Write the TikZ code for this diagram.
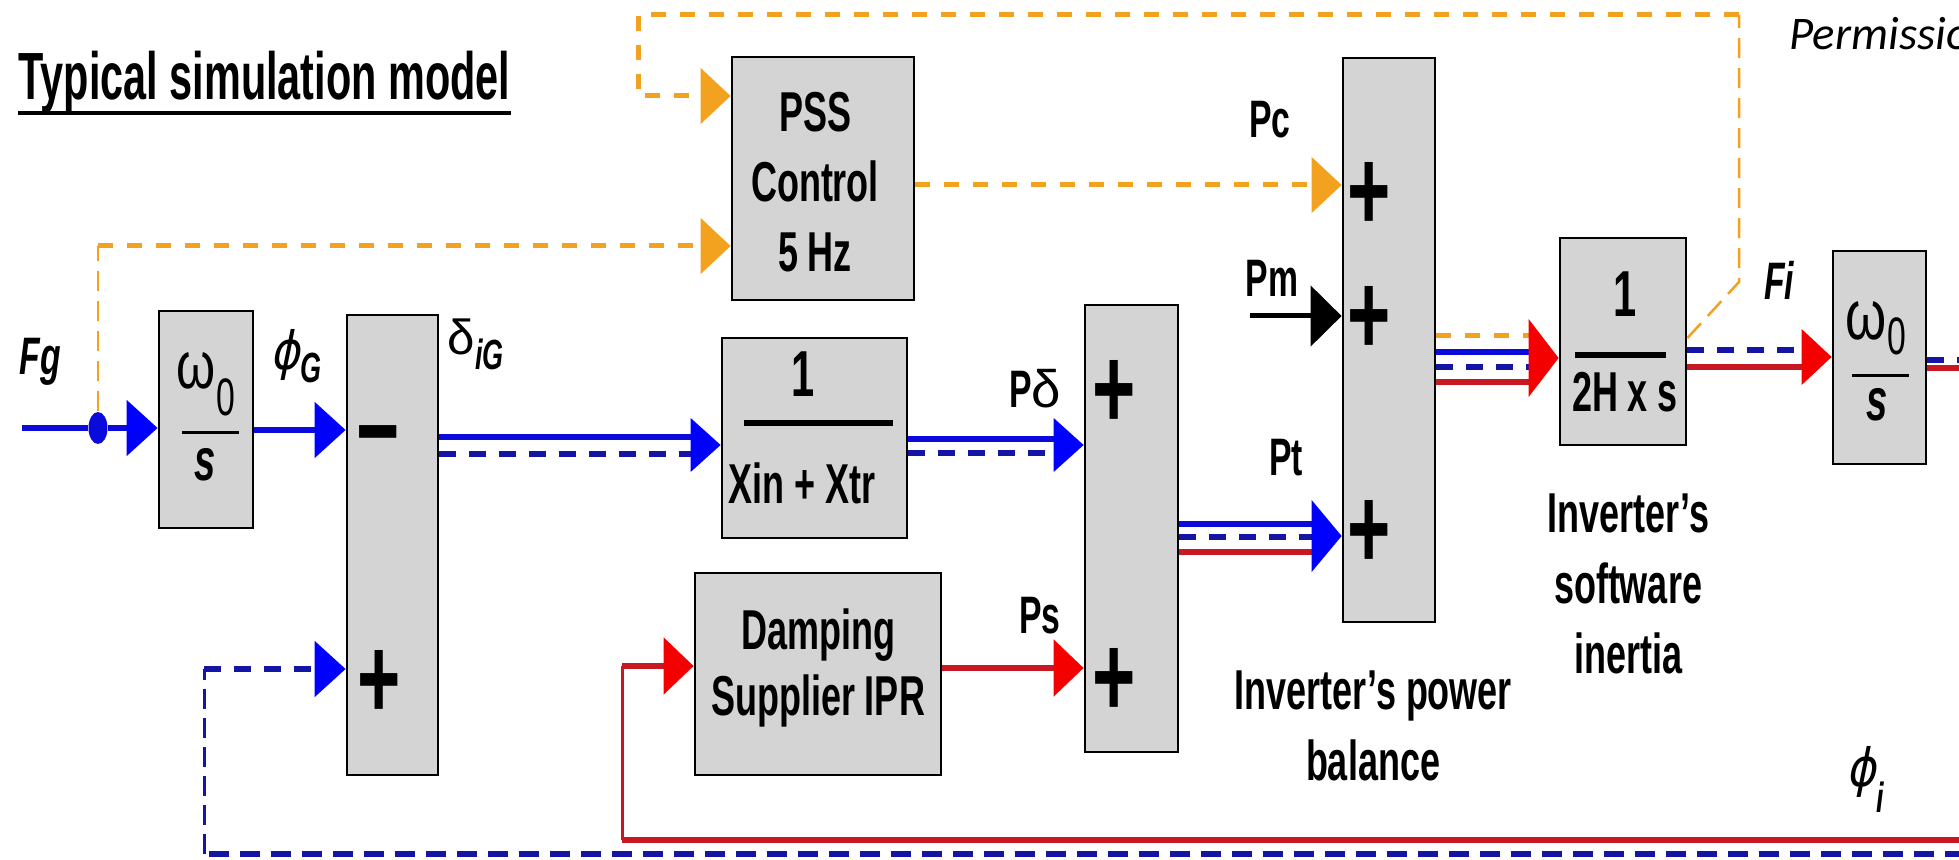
\documentclass[tikz,border=0pt]{standalone}
\usepackage{fontspec}
\usetikzlibrary{arrows.meta,shapes.geometric}
\newfontfamily\nf{Liberation Sans}[FakeStretch=0.64]
\newfontfamily\tf{Liberation Sans}[FakeStretch=0.62]
\newfontfamily\grn{Liberation Sans}
\newfontfamily\wf{Liberation Sans}[FakeStretch=0.75]
\newfontfamily\dvf{DejaVu Sans}[FakeSlant=0.2,FakeStretch=0.85]
\newfontfamily\cf{Carlito}
\definecolor{boxg}{RGB}{212,212,212}
\definecolor{bluel}{RGB}{10,10,220}
\definecolor{blued}{RGB}{20,20,165}
\definecolor{bluea}{RGB}{0,0,255}
\definecolor{redl}{RGB}{200,25,35}
\definecolor{reda}{RGB}{245,0,0}
\definecolor{orng}{RGB}{242,162,30}
\tikzset{
  blk/.style={draw=black, fill=boxg, line width=0.28mm, inner sep=0pt},
  bsol/.style={draw=bluel, line width=0.55mm},
  bdsh/.style={draw=blued, line width=0.55mm, dash pattern=on 1.7mm off 1.3mm},
  bdbot/.style={draw=blued, line width=0.55mm, dash pattern=on 2mm off 1.1mm},
  bdthin/.style={draw=blued, line width=0.3mm, dash pattern=on 2mm off 0.9mm},
  rsol/.style={draw=redl, line width=0.55mm},
  rthin/.style={draw=redl, line width=0.3mm},
  othick/.style={draw=orng, line width=0.5mm, dash pattern=on 1.5mm off 1.4mm},
  othin/.style={draw=orng, line width=0.25mm, dash pattern=on 2mm off 1mm},
  ksol/.style={draw=black, line width=0.5mm},
  arB/.style={-{Triangle[length=3.1mm,width=5.5mm,color=bluea]}},
  arR/.style={-{Triangle[length=3mm,width=5.6mm,color=reda]}},
  arO/.style={-{Triangle[length=3mm,width=5.5mm,color=orng]}},
  arK/.style={-{Triangle[length=3.1mm,width=6mm,color=black]}},
  fbar/.style={draw=black, line width=#1},
  lbl/.style={inner sep=0pt, font=\nf\bfseries\fontsize{15}{17}\selectfont},
  ilbl/.style={inner sep=0pt, font=\nf\bfseries\itshape\fontsize{15}{17}\selectfont},
  sgn/.style={inner sep=0pt, anchor=base, font=\nf\bfseries\fontsize{33}{33}\selectfont},
  btxt/.style={inner sep=0pt, align=center, font=\nf\bfseries\fontsize{16}{20}\selectfont},
  pics/ahd/.style n args={2}{code={\fill[#1] (0,0) -- (-30,#2) -- (-30,-#2) -- cycle;}},
}
\begin{document}
\begin{tikzpicture}[x=0.1mm,y=-0.1mm]
\useasboundingbox (0,0) rectangle (1959,860);
\clip (0,0) rectangle (1959,860);
\fill[white] (0,0) rectangle (1959,860);

% ---------- blocks ----------
\node[blk, minimum width=9.4mm, minimum height=21.7mm] (b1) at (206,419.5) {};
\node[blk, minimum width=9.1mm, minimum height=46mm] (sub) at (392.5,545) {};
\node[blk, minimum width=18.2mm, minimum height=24.3mm] (pss) at (823,178.5) {};
\node[blk, minimum width=18.5mm, minimum height=20mm] (xin) at (814.5,438) {};
\node[blk, minimum width=24.6mm, minimum height=20.2mm] (damp) at (818,674) {};
\node[blk, minimum width=9.3mm, minimum height=44.7mm] (sum2) at (1131.5,528.5) {};
\node[blk, minimum width=9.2mm, minimum height=56.4mm] (sum3) at (1389,340) {};
\node[blk, minimum width=12.6mm, minimum height=20.7mm] (inert) at (1623,341.5) {};
\node[blk, minimum width=9.3mm, minimum height=21.3mm] (b2) at (1879.5,357.5) {};

% ---------- block contents ----------
\node[anchor=base, inner sep=0pt, font=\wf\fontsize{19}{19}\selectfont] (b1w) at (196,388) {ω};
\node[anchor=base west, inner sep=0pt, font=\nf\fontsize{15}{15}\selectfont] (b1z) at (216,415) {0};
\draw[fbar=0.3mm] (182,432) -- (239,432);
\node[anchor=base, inner sep=0pt, font=\nf\bfseries\itshape\fontsize{17}{17}\selectfont] (b1s) at (205,480) {s};

\node[anchor=base, inner sep=0pt, font=\wf\fontsize{20}{20}\selectfont] (b2w) at (1866,339) {ω};
\node[anchor=base west, inner sep=0pt, font=\nf\fontsize{15}{15}\selectfont] (b2z) at (1887,354) {0};
\draw[fbar=0.3mm] (1852,376) -- (1909,376);
\node[anchor=base, inner sep=0pt, font=\nf\bfseries\itshape\fontsize{17}{17}\selectfont] (b2s) at (1877,420) {s};

\node[btxt] (psst) at (815,182) {PSS\\Control\\5 Hz};
\node[anchor=base, inner sep=0pt, font=\nf\bfseries\fontsize{18.5}{18.5}\selectfont] (xin1) at (803,397) {1};
\draw[fbar=0.6mm] (744,423) -- (893,423);
\node[anchor=base, inner sep=0pt, font=\nf\bfseries\fontsize{16}{16}\selectfont] (xinb) at (802,503) {Xin + Xtr};
\node[btxt, font=\nf\bfseries\fontsize{16}{19}\selectfont] (dampt) at (818,668) {Damping\\Supplier IPR};
\node[anchor=base, inner sep=0pt, font=\nf\bfseries\fontsize{18.5}{18.5}\selectfont] (in1) at (1625,317) {1};
\draw[fbar=0.6mm] (1575,355) -- (1666,355);
\node[anchor=base, inner sep=0pt, font=\nf\bfseries\fontsize{16}{16}\selectfont] (inb) at (1625,411) {2H x s};

% signs
\node[sgn] (m1) at (378,470) {−};
\node[sgn] (p1) at (379,718) {+};
\node[sgn] (p2) at (1114,428) {+};
\node[sgn] (p3) at (1114,716) {+};
\node[sgn] (p4) at (1369,231) {+};
\node[sgn] (p5) at (1369,354) {+};
\node[sgn] (p6) at (1369,568) {+};

% ---------- texts ----------
\node[anchor=base west, inner sep=0pt, font=\tf\bfseries\fontsize{19}{22}\selectfont] (title) at (18,100) {Typical simulation model};
\draw[line width=0.4mm] ([yshift=-1.3mm]title.base west) -- ([yshift=-1.3mm]title.base east);
\node[anchor=base west, inner sep=0pt, font=\cf\itshape\fontsize{13.3}{16}\selectfont] (perm) at (1789,50) {Permission};

\node[ilbl] (fg) at (40,362) {Fg};
\node[anchor=base west, inner sep=0pt] (phig) at (270,370) {\dvf\fontsize{15}{15}\selectfont ϕ\raisebox{-1.3mm}{\nf\bfseries\itshape\fontsize{12}{12}\selectfont G}};
\node[anchor=base west, inner sep=0pt] (dig) at (447,355) {\grn\fontsize{14}{14}\selectfont δ\raisebox{-1.5mm}{\nf\bfseries\itshape\fontsize{12}{12}\selectfont iG}};
\node[lbl] (pd) at (1035,389) {P{\grn\mdseries δ}};
\node[lbl] (ps) at (1040,616) {Ps};
\node[lbl] (pt) at (1286,458) {Pt};
\node[lbl] (pm) at (1272,278) {Pm};
\node[lbl] (pc) at (1270,120) {Pc};
\node[ilbl] (fi) at (1779,280) {Fi};
\node[anchor=base west, inner sep=0pt] (phii) at (1846,786) {\dvf\fontsize{15}{15}\selectfont ϕ\raisebox{-2.6mm}{\nf\bfseries\itshape\fontsize{12}{12}\selectfont i}};
\node[btxt] (lpb) at (1373,726) {Inverter’s power\\balance};
\node[btxt] (lsi) at (1628,584) {Inverter’s\\software\\inertia};

% ---------- connectors ----------
\coordinate (fgin) at (22,428);
\node[ellipse, fill=bluel, inner sep=0pt, minimum width=1.9mm, minimum height=3.2mm] (jn) at (98,428) {};
\draw[bsol] (fgin) -- (jn);
\draw[bsol,arB] (jn) -- (b1.west |- jn);

% orange from junction to PSS
\coordinate (oc1) at (98,246);
\draw[othin] (jn.north) -- (oc1);
\draw[othick,arO] (oc1) -- (pss.west |- oc1);

% orange loop from inertia output to PSS
\coordinate (o1) at (1739,282);
\coordinate (o2) at (1739,15);
\coordinate (o3) at (638,15);
\coordinate (o4) at (638,96);
\draw[othin] (inert.east |- 0,338) -- (o1) -- (o2);
\draw[othick,arO] (o2) -- (o3) -- (o4) -- (pss.west |- o4);

% b1 -> sub
\draw[bsol,arB] (b1.east |- 0,430) -- (sub.west |- 0,430);

% sub -> xin
\draw[bsol,shorten >=2.8mm] (sub.east |- 0,437) -- (xin.west |- 0,437);
\draw[bdsh,shorten >=2.8mm] (sub.east |- 0,454) -- (xin.west |- 0,454);
\pic at (xin.west |- 0,445) {ahd={bluea}{27}};

% xin -> sum2
\draw[bsol,shorten >=2.8mm] (xin.east |- 0,439) -- (sum2.west |- 0,439);
\draw[bdsh,shorten >=2.8mm] (xin.east |- 0,453) -- (sum2.west |- 0,453);
\pic at (sum2.west |- 0,445) {ahd={bluea}{27}};

% damping -> sum2
\draw[rsol,arR] (damp.east |- 0,668) -- (sum2.west |- 0,668);

% sum2 -> sum3
\draw[bsol,shorten >=2.8mm] (sum2.east |- 0,524) -- (sum3.west |- 0,524);
\draw[bdsh,shorten >=2.8mm] (sum2.east |- 0,537) -- (sum3.west |- 0,537);
\draw[rsol,shorten >=2.8mm] (sum2.east |- 0,552) -- (sum3.west |- 0,552);
\pic at (sum3.west |- 0,536) {ahd={bluea}{36}};

% Pm
\coordinate (pmin) at (1250,316);
\draw[ksol,arK] (pmin) -- (sum3.west |- pmin);

% Pc
\draw[othick,arO] (pss.east |- 0,185) -- (sum3.west |- 0,185);

% sum3 -> inertia
\draw[othick,shorten >=2.8mm] (sum3.east |- 0,336) -- (inert.west |- 0,336);
\draw[bsol,shorten >=2.8mm] (sum3.east |- 0,352) -- (inert.west |- 0,352);
\draw[bdsh,shorten >=2.8mm] (sum3.east |- 0,367) -- (inert.west |- 0,367);
\draw[rsol,shorten >=2.8mm] (sum3.east |- 0,382) -- (inert.west |- 0,382);
\pic at (inert.west |- 0,358) {ahd={reda}{39}};

% inertia -> b2
\draw[bdsh,shorten >=2.8mm] (inert.east |- 0,350) -- (b2.west |- 0,350);
\draw[rsol,shorten >=2.8mm] (inert.east |- 0,367) -- (b2.west |- 0,367);
\pic at (b2.west |- 0,357) {ahd={reda}{28}};

% b2 -> out
\coordinate (bo1) at (1965,360);
\coordinate (bo2) at (1965,368);
\draw[bdsh] (b2.east |- bo1) -- (bo1);
\draw[rsol] (b2.east |- bo2) -- (bo2);

% red feedback to damping
\coordinate (rr) at (1965,840);
\coordinate (r1) at (622,840);
\coordinate (r2) at (622,666);
\draw[rsol] (rr) -- (r1);
\draw[rthin] (r1) -- (r2);
\draw[rsol,arR] (r2) -- (damp.west |- r2);

% blue feedback to subtraction
\coordinate (bb) at (1965,854);
\coordinate (b3) at (204,854);
\coordinate (b4) at (204,669);
\draw[bdbot] (bb) -- (b3);
\draw[bdthin] (b3) -- (b4);
\draw[bdsh,arB] (b4) -- (sub.west |- b4);
\end{tikzpicture}
\end{document}
